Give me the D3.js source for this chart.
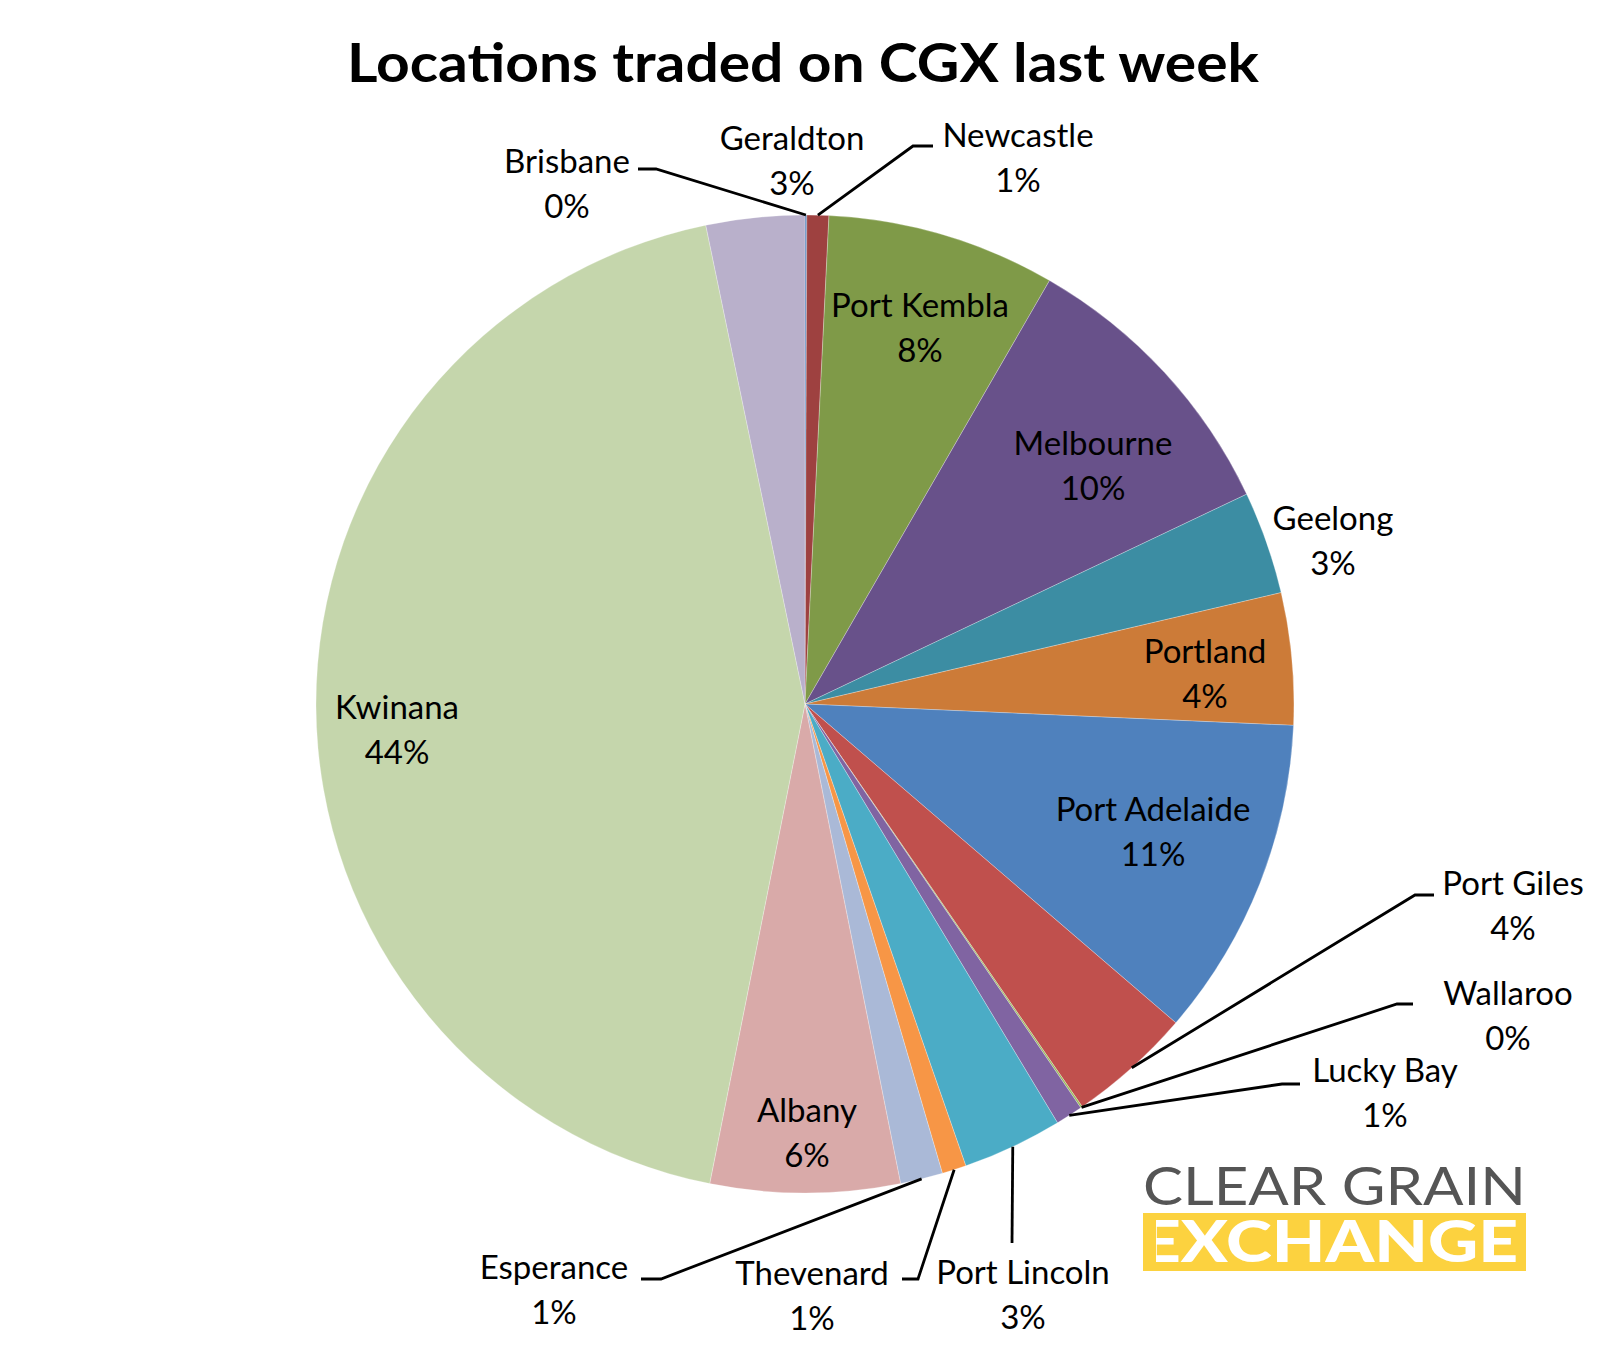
<!DOCTYPE html>
<html>
<head>
<meta charset="utf-8">
<script src="https://cdn.jsdelivr.net/npm/d3@7"></script>
<style>
  html, body { margin: 0; padding: 0; background: #ffffff; }
  svg { display: block; }
</style>
</head>
<body>
<svg id="chart" width="1608" height="1351"></svg>
<script>
// ---- data ----
const title = "Locations traded on CGX last week";
const categories = ["Brisbane", "Newcastle", "Port Kembla", "Melbourne", "Geelong", "Portland",
  "Port Adelaide", "Port Giles", "Wallaroo", "Lucky Bay", "Port Lincoln", "Thevenard",
  "Esperance", "Albany", "Kwinana", "Geraldton"];
const shares = [0.06, 0.72, 7.55, 9.6, 3.4, 4.35, 10.6, 4.1, 0.06, 0.9, 3.3, 0.8, 1.4, 6.25, 43.6, 3.25];
const colors = ["#4F81BD", "#9E4140", "#7F9A48", "#68518A", "#3C8DA3", "#CC7B38",
  "#4F81BD", "#C0504D", "#9BBB59", "#8064A2", "#4BACC6", "#F79646",
  "#AAB9D7", "#D9AAA9", "#C5D6AC", "#B9B0CB"];

// ---- layout ----
const W = 1608, H = 1351;
const cx = 805, cy = 704, R = 489;
const labelFont = "Lato, 'Open Sans', sans-serif";
const labelSize = 33;
const lineGap = 44.5;
// first-line baseline positions of data labels
const labelPos = {
  "Brisbane": [567, 173], "Geraldton": [792, 150], "Newcastle": [1018, 147],
  "Port Kembla": [920, 317], "Melbourne": [1093, 455], "Geelong": [1333, 530],
  "Portland": [1205, 663], "Port Adelaide": [1153, 821], "Port Giles": [1513, 895],
  "Wallaroo": [1508, 1005], "Lucky Bay": [1385, 1082], "Port Lincoln": [1023, 1284],
  "Thevenard": [812, 1285], "Esperance": [554, 1279], "Albany": [807, 1122],
  "Kwinana": [397, 719]
};
// leader lines: label-side points (end, elbow); last point on the pie edge is computed
const leaders = {
  "Brisbane": [[638, 169], [656, 169]],
  "Newcastle": [[933, 146], [913, 146]],
  "Port Giles": [[1434, 895], [1415, 895]],
  "Wallaroo": [[1413, 1004], [1397, 1004]],
  "Lucky Bay": [[1300, 1084], [1282, 1084]],
  "Port Lincoln": [[1012, 1243]],
  "Thevenard": [[902, 1279], [918, 1279]],
  "Esperance": [[641, 1279], [661, 1279]]
};

const svg = d3.select("#chart");
const total = d3.sum(shares);
const data = categories.map((c, i) => ({ name: c, value: shares[i], color: colors[i] }));

const pie = d3.pie().sort(null).value(d => d.value).startAngle(0).endAngle(2 * Math.PI);
const arcs = pie(data);
const arc = d3.arc().innerRadius(0).outerRadius(R);

const g = svg.append("g").attr("transform", `translate(${cx},${cy})`);
g.selectAll("path.slice").data(arcs).join("path")
  .attr("class", "slice")
  .attr("d", arc)
  .attr("fill", d => d.data.color)
  .attr("stroke", "#ffffff")
  .attr("stroke-opacity", 0.45)
  .attr("stroke-width", 0.6);

// title
svg.append("text")
  .attr("x", 803).attr("y", 82)
  .attr("text-anchor", "middle")
  .attr("font-family", "Lato, 'Open Sans', sans-serif")
  .attr("font-weight", 700)
  .attr("font-size", 54)
  .attr("textLength", 912)
  .attr("lengthAdjust", "spacingAndGlyphs")
  .attr("fill", "#000")
  .text(title);

// leader lines
const edgePoint = a => {
  const m = (a.startAngle + a.endAngle) / 2;
  return [cx + R * Math.sin(m), cy - R * Math.cos(m)];
};
arcs.forEach(a => {
  const L = leaders[a.data.name];
  if (!L) return;
  const pts = L.concat([edgePoint(a)]);
  svg.append("path")
    .attr("d", d3.line()(pts))
    .attr("fill", "none")
    .attr("stroke", "#000")
    .attr("stroke-width", 2.8);
});

// labels
arcs.forEach(a => {
  const p = labelPos[a.data.name];
  const pct = Math.round(a.data.value / total * 100) + "%";
  const t = svg.append("text")
    .attr("text-anchor", "middle")
    .attr("font-family", labelFont)
    .attr("font-size", labelSize)
    .attr("fill", "#000");
  t.append("tspan").attr("x", p[0]).attr("y", p[1]).text(a.data.name);
  t.append("tspan").attr("x", p[0]).attr("y", p[1] + lineGap).text(pct);
});

// logo
const logo = svg.append("g");
logo.append("text")
  .attr("x", 1143).attr("y", 1205)
  .attr("font-family", "Lato, sans-serif")
  .attr("font-weight", 400)
  .attr("font-size", 52)
  .attr("textLength", 383)
  .attr("lengthAdjust", "spacingAndGlyphs")
  .attr("fill", "#555555")
  .text("CLEAR GRAIN");
logo.append("rect")
  .attr("x", 1143).attr("y", 1213).attr("width", 383).attr("height", 58)
  .attr("fill", "#FCD23F");
const ex = logo.append("text")
  .attr("x", 1141).attr("y", 1262)
  .attr("font-family", "Lato, sans-serif")
  .attr("font-weight", 900)
  .attr("font-size", 57)
  .attr("textLength", 377)
  .attr("lengthAdjust", "spacingAndGlyphs")
  .attr("fill", "#ffffff")
  .text("EXCHANGE");
// hide the stem of the first E, as in the logo
logo.append("rect")
  .attr("x", 1143).attr("y", 1213).attr("width", 13).attr("height", 58)
  .attr("fill", "#FCD23F");
</script>
</body>
</html>
